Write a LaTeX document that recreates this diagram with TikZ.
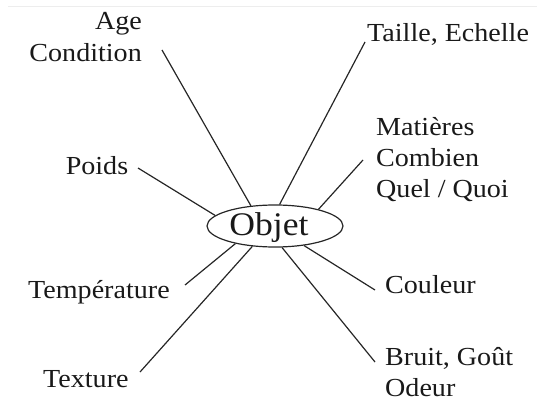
\documentclass[tikz,border=0pt]{standalone}
\usepackage{fontspec}
\setmainfont{Liberation Serif}[FakeStretch=1.08]
\usetikzlibrary{shapes.geometric}
\begin{document}
\begin{tikzpicture}[x=1pt,y=-1pt,
  lbl/.style={inner sep=0pt, font=\fontsize{26}{30}\selectfont, text=black!90},
  link/.style={line width=1.2pt, draw=black!85},
  oval/.style={draw=black!85, ellipse, line width=1.2pt, inner sep=0pt, minimum width=136pt, minimum height=42pt}]
\useasboundingbox (0,0) rectangle (537,403);
\draw[black!7, line width=0.8pt] (8,6) -- (537,6);
% central object
\node[oval] (obj) at (275,226) {};
\node[inner sep=0pt, anchor=base, font=\fontsize{33}{36}\selectfont, text=black!90] (objt) at (269,235) {Objet};
% labels
\node[lbl, anchor=base east] (age) at (142,30) {Age};
\node[lbl, anchor=base east] (cond) at (142,62) {Condition};
\node[lbl, anchor=base] (poids) at (97,175) {Poids};
\node[lbl, anchor=base west] (taille) at (367,42) {Taille, Echelle};
\node[lbl, anchor=base west] (mat) at (376,136) {Matières};
\node[lbl, anchor=base west] (comb) at (376,167) {Combien};
\node[lbl, anchor=base west] (quel) at (376,197) {Quel / Quoi};
\node[lbl, anchor=base west] (temp) at (28,298) {Température};
\node[lbl, anchor=base west] (text) at (43,387) {Texture};
\node[lbl, anchor=base west] (coul) at (385,293) {Couleur};
\node[lbl, anchor=base west] (bruit) at (385,365) {Bruit, Goût};
\node[lbl, anchor=base west] (odeur) at (385,396) {Odeur};
% free ends of connectors near labels
\coordinate (cA) at (162,50);
\coordinate (cP) at (138,168);
\coordinate (cT) at (365,42);
\coordinate (cM) at (363,160);
\coordinate (cTe) at (185,285);
\coordinate (cX) at (140,372);
\coordinate (cC) at (375,290);
\coordinate (cB) at (375,362);
% connectors
\draw[link] (cA) -- (obj.140);
\draw[link] (cP) -- (obj.170);
\draw[link] (cT) -- (obj.78);
\draw[link] (cM) -- (obj.21);
\draw[link] (cTe) -- (obj.204);
\draw[link] (cX) -- (obj.222);
\draw[link] (cC) -- (obj.326);
\draw[link] (cB) -- (obj.288);
\end{tikzpicture}
\end{document}
